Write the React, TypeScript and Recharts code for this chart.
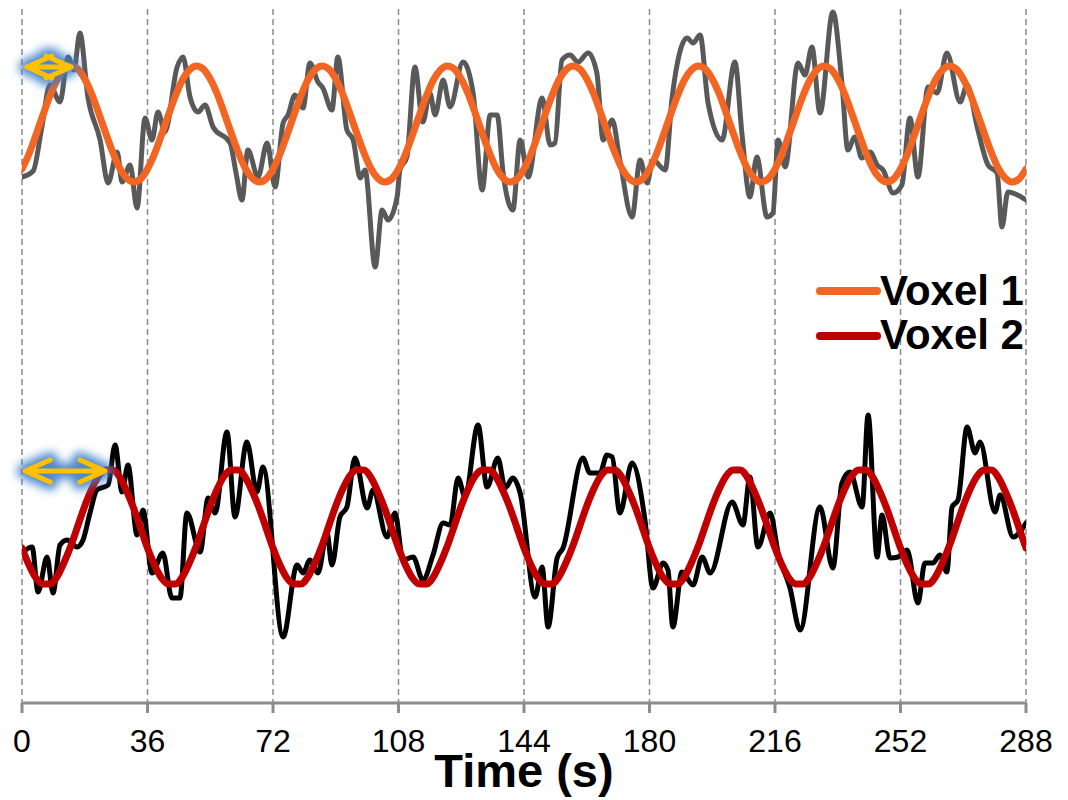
import React from 'react';
import { LineChart, Line, XAxis, YAxis, CartesianGrid, ReferenceLine } from 'recharts';

const xTicks = [0, 36, 72, 108, 144, 180, 216, 252, 288];

const gridTimes = [
  0, 2, 4, 6, 8, 10, 12, 14, 16, 18, 20, 22, 24, 26, 28, 30, 32, 34, 36, 38, 40, 42, 44, 46, 48, 50,
  52, 54, 56, 58, 60, 62, 64, 66, 68, 70, 72, 74, 76, 78, 80, 82, 84, 86, 88, 90, 92, 94, 96, 98, 100,
  102, 104, 106, 108, 110, 112, 114, 116, 118, 120, 122, 124, 126, 128, 130, 132, 134, 136, 138, 140,
  142, 144, 146, 148, 150, 152, 154, 156, 158, 160, 162, 164, 166, 168, 170, 172, 174, 176, 178, 180,
  182, 184, 186, 188, 190, 192, 194, 196, 198, 200, 202, 204, 206, 208, 210, 212, 214, 216, 218, 220,
  222, 224, 226, 228, 230, 232, 234, 236, 238, 240, 242, 244, 246, 248, 250, 252, 254, 256, 258, 260,
  262, 264, 266, 268, 270, 272, 274, 276, 278, 280, 282, 284, 286, 288,
];

const voxel1Fit = [
  534, 549, 568, 588, 607, 623, 633, 637, 634, 624, 609, 590, 570, 551, 535, 525, 521, 524,
  534, 549, 568, 588, 607, 623, 633, 637, 634, 624, 609, 590, 570, 551, 535, 525, 521, 524,
  534, 549, 568, 588, 607, 623, 633, 637, 634, 624, 609, 590, 570, 551, 535, 525, 521, 524,
  534, 549, 568, 588, 607, 623, 633, 637, 634, 624, 609, 590, 570, 551, 535, 525, 521, 524,
  534, 549, 568, 588, 607, 623, 633, 637, 634, 624, 609, 590, 570, 551, 535, 525, 521, 524,
  534, 549, 568, 588, 607, 623, 633, 637, 634, 624, 609, 590, 570, 551, 535, 525, 521, 524,
  534, 549, 568, 588, 607, 623, 633, 637, 634, 624, 609, 590, 570, 551, 535, 525, 521, 524,
  534, 549, 568, 588, 607, 623, 633, 637, 634, 624, 609, 590, 570, 551, 535, 525, 521, 524,
  534,
];

const voxel2Fit = [
  155, 138, 125, 119, 119, 126, 140, 157, 177, 197, 214, 227, 233, 233, 226, 212, 195, 175,
  155, 138, 125, 119, 119, 126, 140, 157, 177, 197, 214, 227, 233, 233, 226, 212, 195, 175,
  155, 138, 125, 119, 119, 126, 140, 157, 177, 197, 214, 227, 233, 233, 226, 212, 195, 175,
  155, 138, 125, 119, 119, 126, 140, 157, 177, 197, 214, 227, 233, 233, 226, 212, 195, 175,
  155, 138, 125, 119, 119, 126, 140, 157, 177, 197, 214, 227, 233, 233, 226, 212, 195, 175,
  155, 138, 125, 119, 119, 126, 140, 157, 177, 197, 214, 227, 233, 233, 226, 212, 195, 175,
  155, 138, 125, 119, 119, 126, 140, 157, 177, 197, 214, 227, 233, 233, 226, 212, 195, 175,
  155, 138, 125, 119, 119, 126, 140, 157, 177, 197, 214, 227, 233, 233, 226, 212, 195, 175,
  155,
];

const voxel1RawTimes = [
  0, 3.2, 5.7, 8.0, 10.9, 13.2, 14.9, 16.6, 18.9, 22.4, 24.7, 27.3, 28.7, 31.0, 33.0, 35.3, 37.3,
  39.0, 41.0, 44.5, 46.2, 48.2, 50.5, 52.5, 54.8, 59.7, 61.4, 63.1, 64.8, 67.7, 70.3, 72.6, 74.9,
  76.3, 78.3, 80.6, 82.6, 84.9, 86.3, 88.9, 90.6, 93.2, 95.0, 97.0, 98.4, 101.3, 103.3, 105.0,
  107.6, 108.4, 110.4, 112.7, 115.0, 117.0, 118.5, 120.8, 122.8, 126.5, 129.4, 132.0, 134.3,
  136.3, 138.0, 140.8, 142.9, 145.2, 149.2, 151.5, 152.9, 154.9, 157.2, 159.5, 162.4, 164.9,
  166.7, 169.3, 171.5, 175.0, 177.3, 179.3, 181.0, 184.5, 186.5, 190.8, 192.5, 194.5, 196.8,
  200.8, 204.5, 206.5, 208.8, 210.8, 213.7, 215.4, 216.9, 218.9, 222.6, 224.6, 226.6, 228.9,
  232.6, 235.2, 236.9, 238.9, 240.9, 243.3, 245.3, 247.0, 249.9, 252.4, 254.7, 257.0, 259.9,
  262.5, 265.3, 269.1, 271.1, 274.0, 277.1, 279.7, 281.1, 282.8, 288,
];
const voxel1RawValues = [
  526, 532, 576, 618, 601, 646, 633, 670, 606, 563, 520, 551, 521, 538, 495, 585, 563,
  591, 571, 636, 646, 606, 591, 598, 576, 560, 530, 503, 553, 526, 560, 516, 580,
  588, 608, 595, 640, 621, 615, 593, 646, 573, 563, 525, 533, 436, 493, 483,
  506, 533, 546, 636, 581, 610, 588, 623, 596, 641, 610, 513, 588,
  588, 530, 493, 563, 526, 605, 558, 560, 643, 648, 641, 650, 630,
  563, 583, 543, 486, 543, 520, 543, 533, 606, 665, 660, 668, 600,
  563, 641, 570, 506, 546, 486, 490, 563, 536, 640, 628, 656, 590,
  691, 620, 553, 566, 545, 551, 538, 533, 510, 518, 585, 526, 616,
  610, 650, 601, 618, 576, 538, 530, 476, 511, 503,
];

const voxel2RawTimes = [
  0, 2.9, 4.6, 7.2, 8.9, 10.9, 12.9, 15.8, 17.5, 19.5, 21.5, 24.7, 26.7, 28.7, 30.4, 33.0, 34.7,
  37.3, 40.4, 43.0, 45.3, 47.3, 51.1, 53.4, 55.4, 58.8, 61.1, 64.5, 67.4, 69.1, 74.9, 78.9, 80.6,
  82.6, 84.9, 87.5, 88.9, 91.2, 93.2, 95.5, 99.0, 100.7, 104.7, 107.0, 109.3, 112.2, 115.0, 117.9,
  120.8, 122.8, 125.1, 127.1, 130.8, 133.4, 136.5, 138.6, 140.8, 142.9, 147.2, 149.2, 150.9, 153.5,
  155.2, 160.9, 162.9, 165.8, 167.8, 169.3, 171.5, 175.0, 178.7, 181.0, 183.9, 185.3, 186.7, 189.3,
  192.5, 195.1, 197.4, 203.7, 206.8, 208.8, 211.1, 214.6, 216.9, 220.3, 223.2, 228.9, 232.6, 235.2,
  237.5, 241.0, 242.7, 245.3, 246.7, 249.0, 251.3, 253.9, 257.0, 259.0, 261.3, 263.3, 265.3, 266.8,
  268.5, 271.1, 273.4, 274.8, 279.1, 280.6, 284.3, 288,
];
const voxel2RawValues = [
  150, 156, 111, 146, 110, 158, 163, 156, 163, 190, 213, 218, 258, 211, 238, 168, 193,
  130, 150, 105, 105, 190, 151, 205, 190, 271, 186, 261, 211, 236, 66, 138, 130,
  143, 130, 170, 138, 186, 196, 245, 195, 213, 166, 190, 143, 146, 123, 148,
  180, 178, 225, 206, 278, 216, 245, 215, 225, 210, 106, 136, 76, 145,
  155, 245, 230, 230, 248, 246, 190, 240, 183, 115, 140, 133, 76, 131,
  118, 146, 130, 201, 178, 226, 156, 190, 150, 115, 73, 196, 135, 220,
  231, 196, 288, 146, 188, 145, 146, 153, 100, 140, 140, 148, 131, 196,
  203, 276, 250, 261, 191, 208, 166, 180,
];

const lagArrows = [
  { from: 1.4, to: 14.1, level: 636 },
  { from: 0.9, to: 23.8, level: 232 },
];

const legendItems = [
  { label: 'Voxel 1', color: '#F26522' },
  { label: 'Voxel 2', color: '#C00000' },
];

const toPoints = (ts: number[], vs: number[]) => ts.map((t, i) => ({ t, v: vs[i] }));

const voxel1Raw = toPoints(voxel1RawTimes, voxel1RawValues);
const voxel2Raw = toPoints(voxel2RawTimes, voxel2RawValues);
const voxel1Smooth = toPoints(gridTimes, voxel1Fit);
const voxel2Smooth = toPoints(gridTimes, voxel2Fit);

const FONT = '"Liberation Sans", Arial, Helvetica, sans-serif';

const ArrowShape = (props: any) => {
  const x1 = Number(props.x1);
  const x2 = Number(props.x2);
  const y = Number(props.y1);
  const hl = 25;
  const hw = 11;
  const d = `M${x1},${y} L${x2},${y} M${x1 + hl},${y - hw} L${x1},${y} L${x1 + hl},${y + hw} M${x2 - hl},${y - hw} L${x2},${y} L${x2 - hl},${y + hw}`;
  return (
    <g>
      <defs>
        <filter id="arrowGlow" filterUnits="userSpaceOnUse" x="0" y="0" width="1068" height="800">
          <feGaussianBlur stdDeviation="5" />
        </filter>
      </defs>
      <path d={d} stroke="#3A7DC4" strokeOpacity={0.9} strokeWidth={16} fill="none" strokeLinecap="round" strokeLinejoin="round" filter="url(#arrowGlow)" />
      <path d={d} stroke="#FFC000" strokeWidth={5} fill="none" strokeLinecap="round" strokeLinejoin="round" />
    </g>
  );
};

const TitleLabel = (props: any) => {
  const vb = props.viewBox || {};
  return (
    <text
      x={vb.x + vb.width / 2}
      y={vb.y + 84}
      textAnchor="middle"
      fontFamily={FONT}
      fontWeight="bold"
      fontSize={47}
      fill="#000"
    >
      Time (s)
    </text>
  );
};

export default function App() {
  return (
    <div style={{ position: 'absolute', left: 0, top: 0, width: 1068, height: 800, background: '#fff', overflow: 'hidden' }}>
      <LineChart width={1068} height={800} margin={{ top: 9, right: 42, left: 22, bottom: 0 }}>
        <CartesianGrid vertical horizontal={false} stroke="#8a8a8a" strokeWidth={1.5} strokeDasharray="6 4" />
        <XAxis
          dataKey="t"
          type="number"
          domain={[0, 288]}
          ticks={xTicks}
          interval={0}
          height={97}
          allowDataOverflow
          axisLine={{ stroke: '#8c8c8c', strokeWidth: 3 }}
          tickLine={{ stroke: '#8c8c8c', strokeWidth: 3 }}
          tickSize={10}
          tickMargin={16}
          tick={{ fontFamily: FONT, fontSize: 32, fill: '#000' }}
          label={<TitleLabel />}
        />
        <YAxis
          type="number"
          domain={[0, 694]}
          width={0}
          tick={false}
          tickLine={false}
          axisLine={{ stroke: '#8c8c8c', strokeWidth: 3 }}
        />
        <Line data={voxel1Raw} dataKey="v" type="monotone" stroke="#595959" strokeWidth={5} dot={false} isAnimationActive={false} strokeLinejoin="round" strokeLinecap="round" />
        <Line data={voxel2Raw} dataKey="v" type="monotone" stroke="#000000" strokeWidth={5} dot={false} isAnimationActive={false} strokeLinejoin="round" strokeLinecap="round" />
        <Line data={voxel1Smooth} dataKey="v" type="monotone" stroke="#F26522" strokeWidth={7} dot={false} isAnimationActive={false} strokeLinecap="round" />
        <Line data={voxel2Smooth} dataKey="v" type="monotone" stroke="#C00000" strokeWidth={7} dot={false} isAnimationActive={false} strokeLinecap="round" />
        {lagArrows.map((a, i) => (
          <ReferenceLine
            key={i}
            segment={[{ x: a.from, y: a.level }, { x: a.to, y: a.level }]}
            ifOverflow="visible"
            shape={ArrowShape}
          />
        ))}
      </LineChart>
      <svg style={{ position: 'absolute', left: 815, top: 262 }} width={253} height={100}>
        {legendItems.map((it, i) => (
          <g key={it.label}>
            <line x1={5} x2={62} y1={29 + i * 45} y2={29 + i * 45} stroke={it.color} strokeWidth={8} strokeLinecap="round" />
            <text x={65} y={43 + i * 44} fontFamily={FONT} fontWeight="bold" fontSize={42} fill="#000">
              {it.label}
            </text>
          </g>
        ))}
      </svg>
    </div>
  );
}
